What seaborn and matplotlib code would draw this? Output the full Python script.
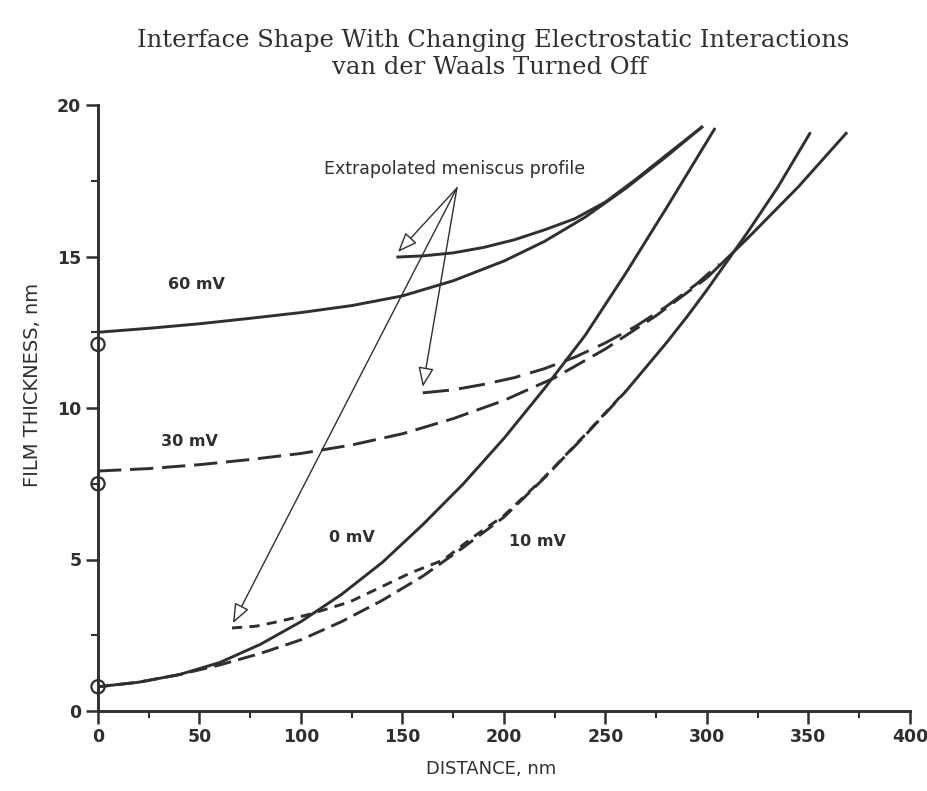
import numpy as np
import pandas as pd
import matplotlib
matplotlib.use("Agg")
import matplotlib.pyplot as plt
import seaborn as sns

# ---------------- data ----------------
x_60 = [0, 25, 50, 75, 100, 125, 150, 175, 200, 220, 240, 260, 280, 298]
y_60 = [12.5, 12.63, 12.78, 12.96, 13.15, 13.38, 13.7, 14.2, 14.85, 15.5, 16.3, 17.25, 18.3, 19.3]

x_60_ext = [147, 160, 175, 190, 205, 220, 235, 250, 265, 280, 298]
y_60_ext = [14.98, 15.02, 15.12, 15.3, 15.55, 15.88, 16.25, 16.8, 17.55, 18.35, 19.3]

x_30 = [0, 25, 50, 75, 100, 125, 150, 175, 200, 225, 250, 275, 300, 320, 345, 369]
y_30 = [7.92, 8.0, 8.13, 8.3, 8.5, 8.78, 9.15, 9.65, 10.25, 11.0, 11.95, 13.05, 14.3, 15.6, 17.3, 19.1]

x_30_ext = [160, 175, 190, 205, 220, 235, 250, 265, 280, 295, 306]
y_30_ext = [10.5, 10.6, 10.78, 11.0, 11.3, 11.68, 12.15, 12.7, 13.35, 14.1, 14.75]

x_0 = [0, 20, 40, 60, 80, 100, 120, 140, 160, 180, 200, 220, 240, 260, 280, 304]
y_0 = [0.8, 0.95, 1.2, 1.6, 2.2, 2.95, 3.85, 4.9, 6.15, 7.5, 9.0, 10.65, 12.4, 14.45, 16.6, 19.24]

x_10 = [0, 20, 40, 60, 80, 100, 120, 140, 160, 180, 200, 220, 240, 260, 280, 290, 300, 310, 320, 335, 351]
y_10 = [0.8, 0.95, 1.2, 1.52, 1.9, 2.35, 2.95, 3.65, 4.45, 5.4, 6.4, 7.7, 9.1, 10.55, 12.15, 13.0, 13.9, 14.85, 15.8, 17.3, 19.1]

x_10_ext = [66, 78, 88, 103, 111, 124, 135, 153.7, 170, 185, 200, 220, 240, 260]
y_10_ext = [2.74, 2.8, 2.94, 3.17, 3.33, 3.6, 3.95, 4.55, 4.98, 5.75, 6.45, 7.72, 9.12, 10.57]

x_circles = [0, 0, 0]
y_circles = [12.1, 7.5, 0.8]

curve_labels = ["60 mV", "30 mV", "0 mV", "10 mV"]
label_x = [48.3, 44.8, 125, 216.7]
label_y = [14.06, 8.88, 5.74, 5.58]

arrow_text = "Extrapolated meniscus profile"
arrow_origin = (176.8, 17.26)
arrow_tips_x = [147.8, 160, 66.5]
arrow_tips_y = [15.15, 10.7, 2.9]

x_ticks = [0, 50, 100, 150, 200, 250, 300, 350, 400]
y_ticks = [0, 5, 10, 15, 20]

title_1 = "Interface Shape With Changing Electrostatic Interactions"
title_2 = "van der Waals Turned Off"
x_label = "DISTANCE, nm"
y_label = "FILM THICKNESS, nm"

# ---------------- figure ----------------
sns.set_theme(style="white")
plt.rcParams['font.family'] = ['DejaVu Sans']
INK = "#2f2f2f"

W, H = 928, 791
fig = plt.figure(figsize=(W / 100, H / 100), dpi=100)
fig.patch.set_facecolor("white")
ax = fig.add_axes([98 / W, 1 - 711 / H, (910 - 98) / W, (711 - 105) / H])
ax.set_facecolor("white")

LW = 2.1

def draw(xs, ys, **kw):
    df = pd.DataFrame({"x": xs, "y": ys})
    sns.lineplot(data=df, x="x", y="y", ax=ax, color=INK, lw=LW,
                 solid_capstyle="butt", dash_capstyle="butt",
                 solid_joinstyle="round", clip_on=False, **kw)

# 60 mV
draw(x_60, y_60)
draw(x_60_ext, y_60_ext)

# 30 mV (dashed up to the merge, solid above)
x30 = np.array(x_30); y30 = np.array(y_30)
draw(x30[x30 <= 300], y30[x30 <= 300], linestyle=(0, (8, 3)))
draw(x30[x30 >= 300], y30[x30 >= 300])
draw(x_30_ext, y_30_ext, linestyle=(0, (9, 3.5)))

# 0 mV
draw(x_0, y_0)

# 10 mV (dashed lower part, solid upper part)
x10 = np.array(x_10); y10 = np.array(y_10)
draw(x10[x10 <= 260], y10[x10 <= 260], linestyle=(2, (6, 2.5)))
draw(x10[x10 >= 260], y10[x10 >= 260])
draw(x_10_ext, y_10_ext, linestyle=(0, (3.5, 2.5)))

# circles on the axis
sns.scatterplot(x=x_circles, y=y_circles, ax=ax, s=90, marker="o",
                facecolor="none", edgecolor=INK, linewidth=1.6, clip_on=False, zorder=5)

# curve labels
for t, lx, ly in zip(curve_labels, label_x, label_y):
    ax.text(lx, ly, t, ha="center", va="center", fontsize=11.5,
            fontweight="bold", color=INK)

# arrows
ax.text(arrow_origin[0] - 1, arrow_origin[1] + 0.62, arrow_text, ha="center",
        va="center", fontsize=12.5, color=INK)
for tx, ty in zip(arrow_tips_x, arrow_tips_y):
    ax.annotate("", xy=(tx, ty), xytext=arrow_origin,
                arrowprops=dict(arrowstyle="-|>,head_length=1.0,head_width=0.4",
                                fc="white", ec=INK, lw=1.0, shrinkA=0, shrinkB=0))

# axes
ax.set_xlim(0, 400)
ax.set_ylim(0, 20)
ax.set_xticks(x_ticks)
ax.set_yticks(y_ticks)
ax.set_xticks(np.arange(25, 400, 50), minor=True)
ax.set_yticks(np.arange(2.5, 20, 5), minor=True)
for s in ["top", "right"]:
    ax.spines[s].set_visible(False)
for s in ["left", "bottom"]:
    ax.spines[s].set_linewidth(2.1)
    ax.spines[s].set_color(INK)
ax.tick_params(which="major", direction="out", length=9, width=1.8, color=INK,
               labelsize=12.5, labelcolor=INK, pad=3, left=True, bottom=True)
ax.tick_params(which="minor", direction="out", length=5, width=1.5, color=INK,
               left=True, bottom=True)
for lab in ax.get_xticklabels() + ax.get_yticklabels():
    lab.set_fontweight("bold")
ax.set_xlabel("")
ax.set_ylabel("")
ax.grid(False)

fig.text(491 / W, 1 - 769 / H, x_label, ha="center", va="center", fontsize=13, color=INK)
fig.text(33 / W, 1 - 385 / H, y_label, ha="center", va="center", rotation=90,
         fontsize=14, color=INK)
fig.text(493 / W, 1 - 41 / H, title_1, ha="center", va="center",
         family="DejaVu Serif", fontsize=17.5, color=INK)
fig.text(490 / W, 1 - 68 / H, title_2, ha="center", va="center",
         family="DejaVu Serif", fontsize=17.5, color=INK)

fig.savefig("out.png", dpi=100, facecolor="white")
